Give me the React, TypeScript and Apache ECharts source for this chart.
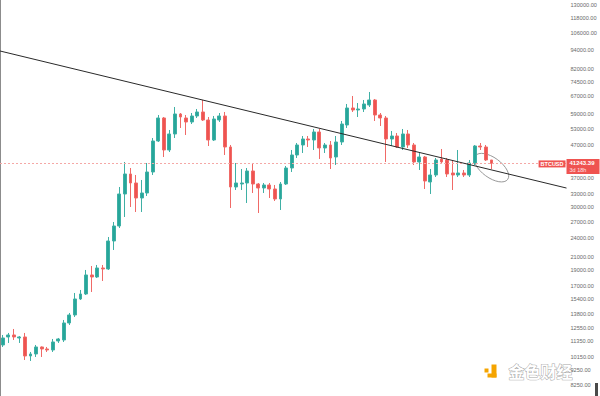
import React, { useEffect, useRef } from 'react';
import * as echarts from 'echarts';

// Weekly BTCUSD candles
const opens = [11065, 11726, 11897, 11641, 11726, 10218, 10367, 10906, 10749, 10671, 11391, 11474, 12978, 13752, 15442, 16012, 18376, 18111, 19332, 19193, 23509, 26208, 33047, 38201, 35789, 32103, 33287, 38759, 48521, 57322, 45458, 51046, 59007, 57322, 55684, 58159, 59869, 56497, 48874, 56497, 58159, 46458, 34767, 35531, 35789, 39041, 35531, 34516, 35275, 34267, 31871, 35531, 39899, 43841, 47136, 49230, 48874, 51791, 46122, 47136, 43210, 48171, 54487, 61630, 60743, 61185, 62985, 65308, 58582, 57322, 49230, 50312, 46458, 51046, 47136, 41672, 43210, 36050, 37926, 42588, 42281, 38479, 37926, 38479, 37926, 41371, 46796, 46458, 42281];
const closes = [11641, 11897, 11726, 11726, 10218, 10367, 10906, 10749, 10671, 11309, 11557, 12978, 13752, 15442, 16012, 18376, 18111, 19332, 19193, 23509, 26208, 33047, 38201, 35789, 32103, 33287, 38759, 48521, 57322, 45458, 51046, 59007, 57739, 55684, 58159, 59869, 56497, 48874, 56908, 58159, 46458, 34767, 35789, 35789, 39041, 35531, 34516, 35275, 34267, 31871, 35531, 39899, 43841, 47136, 49230, 48874, 51791, 46122, 47136, 42898, 48171, 54882, 61630, 60743, 61185, 63442, 65308, 58582, 57322, 49230, 50312, 46458, 51046, 47136, 41672, 43210, 36312, 37926, 42281, 41672, 38201, 37926, 38479, 37926, 41371, 46796, 46458, 42281, 41243.39];
const lows = [10906, 11228, 11474, 11228, 9926, 9855, 10144, 10144, 10518, 10518, 11228, 11309, 12791, 13554, 15331, 15896, 16246, 17981, 17594, 19054, 22026, 25831, 27975, 30077, 29007, 29007, 32572, 37926, 48171, 43210, 44804, 49588, 53315, 50678, 54882, 57322, 56089, 46796, 48521, 55684, 43841, 29860, 34019, 34019, 30961, 33287, 28797, 33287, 32103, 31413, 29430, 35275, 38759, 42898, 44480, 46458, 45458, 42588, 44480, 39611, 40776, 47136, 53315, 59869, 57739, 59869, 62079, 56089, 54093, 41672, 46796, 46122, 45458, 46122, 40776, 39325, 34267, 33047, 37380, 41371, 37380, 34019, 37380, 37380, 37380, 40776, 45458, 41975, 39611];
const highs = [11897, 12072, 12426, 11800, 12072, 10518, 11065, 10950, 10906, 11557, 11641, 13263, 13953, 16129, 16483, 19054, 19614, 19757, 19757, 24201, 26979, 34767, 41672, 39899, 37926, 36576, 41371, 49588, 58582, 57739, 52547, 62079, 59436, 58582, 59436, 61185, 65308, 57739, 58159, 59436, 59869, 47136, 41371, 39611, 39899, 41371, 35789, 35789, 35789, 35275, 36050, 40482, 45458, 47823, 50312, 50312, 52930, 52930, 47823, 48521, 50312, 56089, 63442, 67230, 63903, 65308, 69207, 65783, 59436, 58159, 52168, 51417, 52930, 52547, 47823, 44480, 43524, 39611, 42898, 45789, 42898, 42281, 45458, 39325, 42281, 47136, 47823, 47136, 42281];

// Weekly categories; the last 13 are empty space to the right of the last candle
const firstWeek = '2020-08-03';
const totalSlots = 102;
const categories: string[] = [];
{
  const d0 = new Date(firstWeek + 'T00:00:00Z');
  for (let i = 0; i < totalSlots; i++) {
    const d = new Date(d0.getTime() + i * 7 * 86400000);
    categories.push(d.toISOString().slice(0, 10));
  }
}

const tickValues = [130000, 118000, 106000, 94000, 82000, 74500, 67000, 59000, 53000, 47000, 37000, 33000, 30000, 27000, 24000, 21000, 19000, 17000, 15400, 13800, 12550, 11350, 10150, 9250, 8250];
const yMin = 7645;
const yMax = 134800;

const lastPrice = 41243.39;
const lastPriceText = '41243.39';
const countdownText = '3d 18h';
const symbolText = 'BTCUSD';

// Trend line: price at the left edge and at the right edge of the plot
const trendStart = 93150;
const trendEnd = 34500;

// Ellipse annotation anchor
const ellipseCandle = 88;
const ellipsePrice = 40000;

const UP = '#26a69a';
const DOWN = '#ef5350';

export default function App() {
  const ref = useRef<HTMLDivElement>(null);
  useEffect(() => {
    if (!ref.current) return;
    const chart = echarts.init(ref.current, null, { renderer: 'svg' });
    const candleData = opens.map((o, i) => [o, closes[i], lows[i], highs[i]]);
    const option: any = {
      animation: false,
      backgroundColor: '#ffffff',
      grid: { left: -1.6, right: 33.5, top: 0, bottom: 0, containLabel: false },
      xAxis: [
        { type: 'category', data: categories, show: false, boundaryGap: true },
        { type: 'value', min: 0, max: 1, show: false },
      ],
      yAxis: {
        type: 'log',
        position: 'right',
        min: yMin,
        max: yMax,
        axisLine: { show: true, lineStyle: { color: '#8c8c8c', width: 1 } },
        axisTick: { show: false },
        splitLine: { show: false },
        axisLabel: {
          customValues: tickValues,
          formatter: (v: number) => Number(v).toFixed(2),
          color: '#6a6a6a',
          fontSize: 5.6,
          fontFamily: 'Liberation Sans',
          margin: 4,
        },
      },
      series: [
        {
          type: 'candlestick',
          data: candleData,
          barWidth: 3.4,
          itemStyle: {
            color: UP,
            color0: DOWN,
            borderColor: '#3fb0a5',
            borderColor0: '#f06a67',
            borderWidth: 1,
          },
          markLine: {
            silent: true,
            symbol: ['none', 'none'],
            animation: false,
            data: [
              {
                yAxis: lastPrice,
                lineStyle: { color: '#f5a8a6', type: [2, 2], width: 1 },
                label: {
                  show: true,
                  position: 'end',
                  distance: 0,
                  offset: [0, 3],
                  formatter: `{p|${lastPriceText}}\n{t|${countdownText}}`,
                  backgroundColor: DOWN,
                  padding: [1, 5, 1, 3],
                  rich: {
                    p: { color: '#ffffff', fontSize: 6, fontWeight: 'bold', lineHeight: 7, fontFamily: 'Liberation Sans' },
                    t: { color: '#ffe3e2', fontSize: 5.5, lineHeight: 6, fontFamily: 'Liberation Sans' },
                  },
                },
              },
            ],
          },
        },
        {
          type: 'line',
          xAxisIndex: 1,
          yAxisIndex: 0,
          data: [[0, trendStart], [1, trendEnd]],
          symbol: 'none',
          silent: true,
          lineStyle: { color: '#2a2a2a', width: 1 },
          z: 5,
        },
      ],
    };
    chart.setOption(option);
    const c = chart.convertToPixel({ xAxisIndex: 0, yAxisIndex: 0 }, [categories[ellipseCandle], ellipsePrice]) as number[];
    const p = chart.convertToPixel({ xAxisIndex: 0, yAxisIndex: 0 }, [categories[0], lastPrice]) as number[];
    const axisX = chart.convertToPixel({ xAxisIndex: 1 }, 1) as number;
    chart.setOption({
      graphic: [
        {
          type: 'ellipse',
          x: c[0],
          y: c[1],
          rotation: -0.63,
          shape: { cx: 0, cy: 0, rx: 20, ry: 10 },
          style: { fill: 'none', stroke: '#8a8a8a', lineWidth: 0.8 },
          silent: true,
        },
        {
          type: 'text',
          x: axisX - 1,
          y: p[1] + 0.5,
          silent: true,
          z: 10,
          style: {
            text: symbolText,
            fill: '#ffffff',
            fontSize: 5.5,
            fontWeight: 'bold',
            fontFamily: 'Liberation Sans',
            align: 'right',
            verticalAlign: 'middle',
            backgroundColor: DOWN,
            padding: [1, 2, 0, 2],
          },
        },
        {
          type: 'group',
          right: 27,
          bottom: 17,
          silent: true,
          children: [
            { type: 'rect', shape: { x: 0, y: 4, width: 4, height: 4 }, style: { fill: '#f5a400' } },
            { type: 'rect', shape: { x: 7, y: 0, width: 5, height: 13 }, style: { fill: '#f5a400' } },
            { type: 'rect', shape: { x: 3, y: 9, width: 9, height: 4 }, style: { fill: '#f5a400' } },
            {
              type: 'text',
              x: 24,
              y: -2,
              style: {
                text: '金色财经',
                fontSize: 16,
                fontWeight: 'bold',
                fontFamily: 'Noto Sans CJK SC',
                fill: '#ffffff',
                stroke: '#a8a8a8',
                lineWidth: 1,
                verticalAlign: 'top',
              },
            },
          ],
        },
        {
          type: 'rect',
          shape: { x: 595, y: 383, width: 3, height: 13 },
          style: { fill: '#4a4a4a' },
          silent: true,
        },
      ],
    });
    return () => chart.dispose();
  }, []);
  return (
    <div
      ref={ref}
      style={{ position: 'fixed', left: 0, top: 0, width: 600, height: 396, background: '#fff' }}
    />
  );
}
